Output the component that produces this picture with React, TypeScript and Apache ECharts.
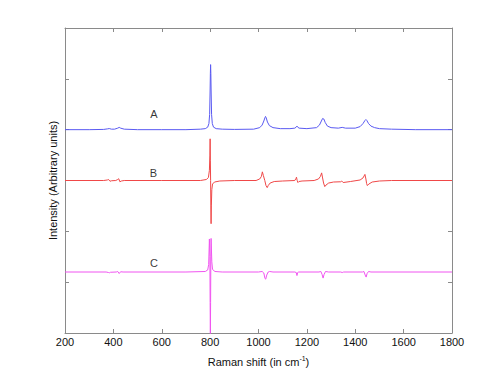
import React, { useEffect, useRef } from "react";
import * as echarts from "echarts";

const xTicks = [200, 400, 600, 800, 1000, 1200, 1400, 1600, 1800];

const spectrumA: number[][] = [
  [200, 4.0], [300, 4.0], [360, 4.005], [375, 4.015], [383, 4.022], [392, 4.01], [405, 4.01],
  [418, 4.03], [424, 4.045], [430, 4.03], [445, 4.01], [500, 4.0], [600, 4.0], [700, 4.0],
  [760, 4.01], [780, 4.02], [790, 4.05], [795, 4.12], [798, 4.3], [800, 4.8], [801, 5.1],
  [802, 5.28], [803, 5.1], [804, 4.8], [806, 4.3], [809, 4.12], [814, 4.05], [825, 4.02],
  [850, 4.01], [900, 4.005], [980, 4.01], [1005, 4.04], [1015, 4.09], [1022, 4.17],
  [1027, 4.24], [1029, 4.26], [1032, 4.23], [1037, 4.15], [1045, 4.08], [1060, 4.04],
  [1090, 4.02], [1130, 4.02], [1150, 4.03], [1156, 4.05], [1159, 4.07], [1162, 4.05],
  [1168, 4.03], [1200, 4.02], [1240, 4.04], [1252, 4.09], [1260, 4.17], [1265, 4.22],
  [1267, 4.23], [1270, 4.21], [1276, 4.14], [1285, 4.07], [1300, 4.04], [1330, 4.03],
  [1346, 4.045], [1360, 4.03], [1400, 4.03], [1420, 4.06], [1432, 4.12], [1440, 4.18],
  [1444, 4.2], [1448, 4.18], [1455, 4.12], [1465, 4.07], [1480, 4.04], [1500, 4.02],
  [1550, 4.01], [1650, 4.0], [1800, 4.0],
];

const firstDerivB: number[][] = [
  [200, 3.0], [360, 3.0], [375, 3.01], [380, 3.02], [386, 2.985], [392, 2.995], [410, 3.0],
  [418, 3.02], [422, 3.035], [427, 2.975], [433, 2.99], [445, 3.0], [600, 3.0], [760, 3.0],
  [785, 3.02], [793, 3.06], [797, 3.2], [799, 3.5], [800, 3.82], [801, 3.4], [802, 3.0],
  [803, 2.5], [804, 2.15], [805, 2.5], [807, 2.82], [810, 2.93], [818, 2.97], [840, 2.99],
  [900, 3.0], [990, 3.0], [1005, 3.03], [1012, 3.08], [1016, 3.17], [1020, 3.1], [1026, 3.0],
  [1031, 2.9], [1036, 2.86], [1040, 2.9], [1048, 2.95], [1065, 2.98], [1100, 2.99],
  [1150, 3.0], [1155, 3.04], [1157, 3.065], [1160, 3.0], [1163, 2.96], [1167, 2.98],
  [1180, 2.99], [1230, 3.0], [1248, 3.03], [1256, 3.08], [1261, 3.15], [1265, 3.05],
  [1269, 2.95], [1274, 2.88], [1279, 2.91], [1290, 2.95], [1310, 2.97], [1340, 2.975],
  [1344, 2.99], [1350, 2.96], [1380, 2.98], [1420, 3.01], [1432, 3.05], [1440, 3.12],
  [1444, 3.03], [1447, 2.94], [1450, 2.9], [1456, 2.93], [1470, 2.97], [1500, 2.99],
  [1550, 3.0], [1800, 3.0],
];

const secondDerivC: number[][] = [
  [200, 1.2], [370, 1.2], [380, 1.19], [384, 1.185], [388, 1.195], [412, 1.2], [418, 1.21],
  [424, 1.17], [430, 1.205], [440, 1.2], [700, 1.2], [780, 1.21], [790, 1.24], [794, 1.35],
  [797, 1.85], [798, 1.86], [799, 1.5], [800, 0.6], [801, -0.1], [802, 0.6], [803, 1.5],
  [804, 1.86], [805, 1.85], [807, 1.4], [810, 1.25], [820, 1.21], [850, 1.2], [1000, 1.2],
  [1015, 1.21], [1022, 1.18], [1027, 1.07], [1030, 1.06], [1034, 1.14], [1040, 1.2],
  [1046, 1.21], [1060, 1.2], [1150, 1.2], [1156, 1.19], [1159, 1.13], [1162, 1.19],
  [1166, 1.2], [1250, 1.2], [1258, 1.21], [1263, 1.15], [1267, 1.08], [1271, 1.15],
  [1277, 1.21], [1290, 1.2], [1340, 1.2], [1346, 1.19], [1352, 1.2], [1430, 1.2],
  [1436, 1.21], [1441, 1.14], [1445, 1.1], [1449, 1.17], [1455, 1.21], [1465, 1.2],
  [1800, 1.2],
];

const traceLabels: (number | string)[][] = [
  [568, 4.31, "A"],
  [566, 3.15, "B"],
  [568, 1.38, "C"],
];

export default function App() {
  const ref = useRef<HTMLDivElement>(null);
  useEffect(() => {
    if (!ref.current) return;
    const chart = echarts.init(ref.current, undefined, { renderer: "svg" });
    const axisColor = "#8a8a8a";
    const font = "Liberation Sans, Arial, sans-serif";
    const xBase = {
      type: "value",
      min: xTicks[0],
      max: xTicks[xTicks.length - 1],
      interval: 200,
      splitLine: { show: false },
      axisLine: { show: true, onZero: false, lineStyle: { color: axisColor, width: 1 } },
      axisTick: { show: true, inside: true, length: 4, lineStyle: { color: axisColor } },
    };
    const yBase = {
      type: "value",
      min: 0,
      max: 6,
      interval: 1,
      splitLine: { show: false },
      axisLabel: { show: false },
      axisLine: { show: true, onZero: false, lineStyle: { color: axisColor, width: 1 } },
      axisTick: { show: true, inside: true, length: 4, lineStyle: { color: axisColor } },
    };
    chart.setOption({
      animation: false,
      backgroundColor: "#ffffff",
      grid: { left: 65, right: 48, top: 28, bottom: 42 },
      xAxis: [
        {
          ...xBase,
          position: "bottom",
          axisLabel: {
            show: true,
            color: "#111",
            fontSize: 11,
            fontFamily: font,
            margin: 3,
            formatter: (v: number) => String(v),
          },
          name: "Raman shift (in cm{sup|-1})",
          nameLocation: "middle",
          nameGap: 22,
          nameTextStyle: {
            color: "#111",
            fontSize: 11,
            fontFamily: font,
            rich: { sup: { fontSize: 7, verticalAlign: "top", color: "#111", fontFamily: font, padding: [0, 0, 6, 0] } },
          },
        },
        { ...xBase, position: "top", axisLabel: { show: false } },
      ],
      yAxis: [
        {
          ...yBase,
          position: "left",
          name: "Intensity (Arbitrary units)",
          nameLocation: "middle",
          nameRotate: 90,
          nameGap: 7,
          nameTextStyle: { color: "#111", fontSize: 11, fontFamily: font },
        },
        { ...yBase, position: "right" },
      ],
      series: [
        {
          type: "line",
          data: spectrumA,
          showSymbol: false,
          lineStyle: { color: "#5a5af2", width: 1 },
          clip: true,
        },
        {
          type: "line",
          data: firstDerivB,
          showSymbol: false,
          lineStyle: { color: "#f04848", width: 1 },
          clip: true,
        },
        {
          type: "line",
          data: secondDerivC,
          showSymbol: false,
          lineStyle: { color: "#f055f0", width: 1 },
          clip: true,
        },
        {
          type: "scatter",
          data: traceLabels,
          symbolSize: 1,
          itemStyle: { color: "rgba(0,0,0,0)" },
          label: {
            show: true,
            position: "inside",
            formatter: (p: any) => p.data[2],
            color: "#000",
            fontSize: 11,
            fontFamily: font,
          },
        },
      ],
    });
    return () => chart.dispose();
  }, []);
  return <div ref={ref} style={{ width: 500, height: 375, position: "fixed", left: 0, top: 0 }} />;
}
